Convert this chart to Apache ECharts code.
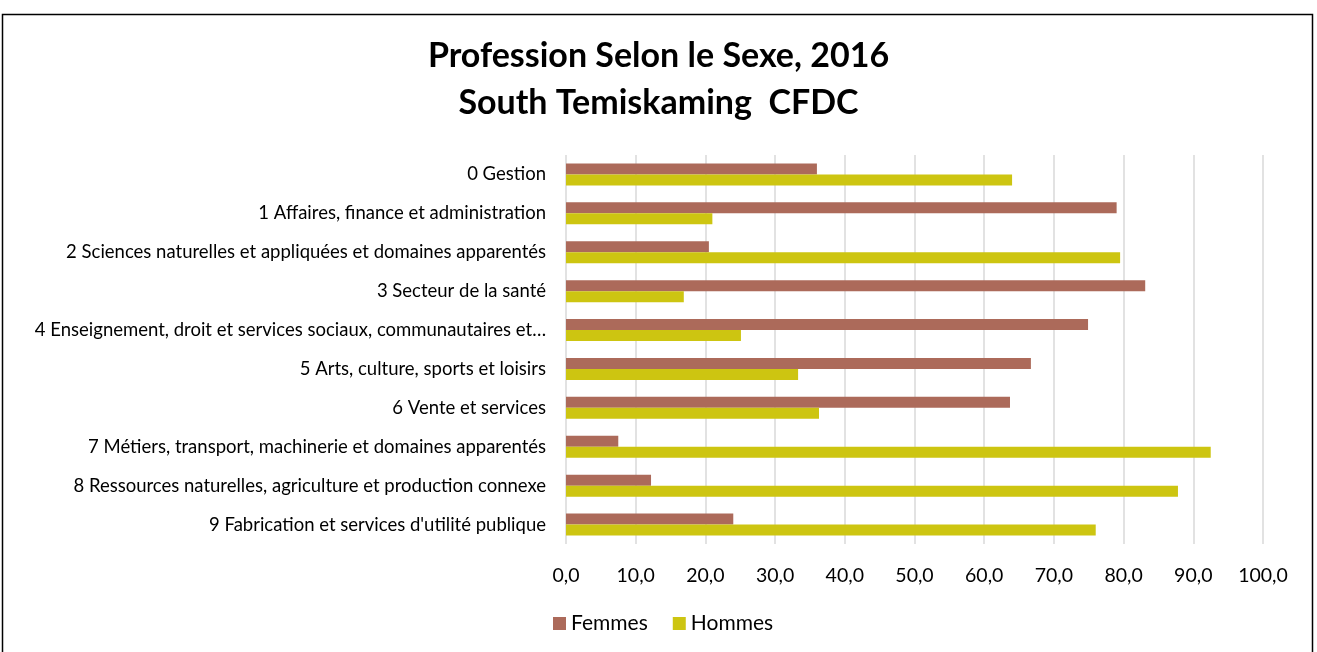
<!DOCTYPE html>
<html><head><meta charset="utf-8">
<script src="https://cdn.jsdelivr.net/npm/echarts@6/dist/echarts.min.js"></script>
<style>html,body{margin:0;padding:0;background:#fff}#c{width:1317px;height:652px}</style>
</head><body><div id="c"></div>
<script>
const categories = [
  "0 Gestion",
  "1 Affaires, finance et administration",
  "2 Sciences naturelles et appliquées et domaines apparentés",
  "3 Secteur de la santé",
  "4 Enseignement, droit et services sociaux, communautaires et…",
  "5 Arts, culture, sports et loisirs",
  "6 Vente et services",
  "7 Métiers, transport, machinerie et domaines apparentés",
  "8 Ressources naturelles, agriculture et production connexe",
  "9 Fabrication et services d'utilité publique"
];
const femmes = [36.0, 79.0, 20.5, 83.1, 74.9, 66.7, 63.7, 7.5, 12.2, 24.0];
const hommes = [64.0, 21.0, 79.5, 16.9, 25.1, 33.3, 36.3, 92.5, 87.8, 76.0];
const seriesNames = ["Femmes", "Hommes"];
const titleLines = ["Profession Selon le Sexe, 2016", "South Temiskaming  CFDC"];

const font = "Lato, 'Liberation Sans', sans-serif";
const chart = echarts.init(document.getElementById('c'), null, {renderer: 'canvas'});
chart.setOption({
  animation: false,
  backgroundColor: '#fff',
  graphic: [{
    type: 'rect', shape: {x: 2.5, y: 14.5, width: 1310, height: 650},
    style: {fill: 'none', stroke: '#000', lineWidth: 1.5}, z: 100, silent: true
  }],
  title: {
    text: titleLines.join('\n'), left: 'center', top: 28,
    textStyle: {fontFamily: font, fontWeight: 'bold', fontSize: 34, color: '#000', lineHeight: 47}
  },
  legend: {
    data: seriesNames, bottom: 13, left: 548, itemWidth: 13, itemHeight: 13, itemGap: 25,
    icon: 'rect',
    textStyle: {fontFamily: font, fontSize: 21, color: '#000'}
  },
  grid: {left: 566, right: 54, top: 155, bottom: 108, containLabel: false},
  xAxis: {
    type: 'value', min: 0, max: 100, interval: 10,
    axisLine: {show: false}, axisTick: {show: false},
    splitLine: {lineStyle: {color: '#d9d9d9', width: 1.5}},
    axisLabel: {margin: 22, fontFamily: font, fontSize: 19.5, color: '#000',
      formatter: v => v.toFixed(1).replace('.', ',')}
  },
  yAxis: {
    type: 'category', data: categories, inverse: true,
    axisLine: {show: false}, axisTick: {show: false},
    axisLabel: {margin: 20, fontFamily: font, fontSize: 18.5, color: '#000'}
  },
  series: [
    {name: seriesNames[0], type: 'bar', data: femmes, barWidth: 11, barGap: '0%',
     itemStyle: {color: '#AC6A5A'}},
    {name: seriesNames[1], type: 'bar', data: hommes, barWidth: 11, barGap: '0%',
     itemStyle: {color: '#CDC511'}}
  ]
});
</script></body></html>
